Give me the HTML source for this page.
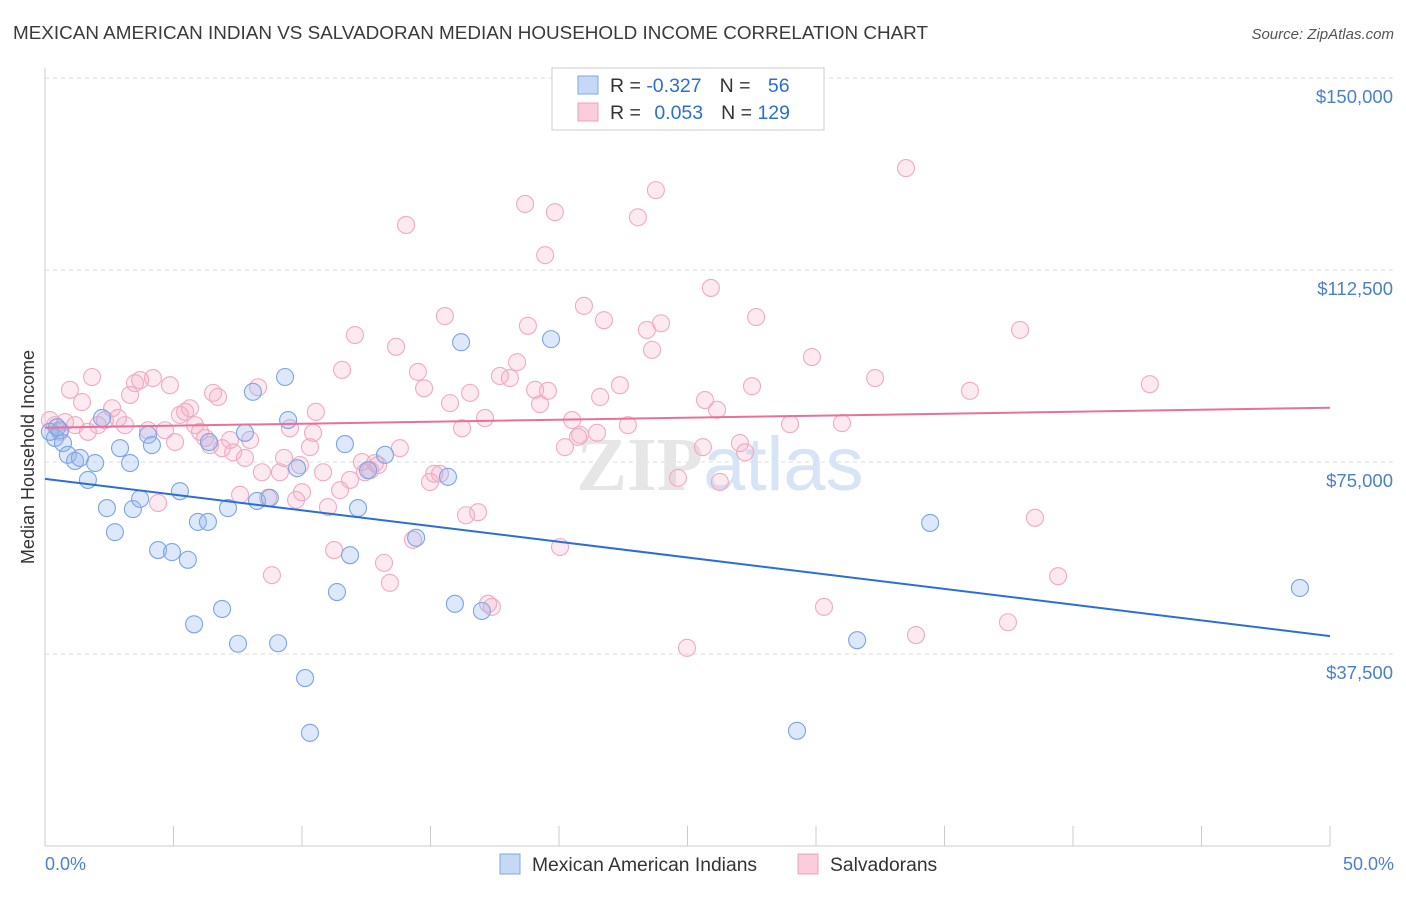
<!DOCTYPE html>
<html><head><meta charset="utf-8">
<style>
html,body{margin:0;padding:0;background:#fff;}
body{width:1406px;height:892px;overflow:hidden;font-family:"Liberation Sans",sans-serif;}
</style></head>
<body>
<svg id="chart" width="1406" height="892" xmlns="http://www.w3.org/2000/svg" font-family="Liberation Sans, sans-serif">
<text x="13" y="39" font-size="18.6" fill="#3a3a3a" textLength="915" lengthAdjust="spacingAndGlyphs">MEXICAN AMERICAN INDIAN VS SALVADORAN MEDIAN HOUSEHOLD INCOME CORRELATION CHART</text>
<text x="1394" y="39" font-size="15" fill="#555" text-anchor="end" font-style="italic">Source: ZipAtlas.com</text>
<g id="grid"></g>
<text x="720" y="490" font-size="76" text-anchor="middle" fill="#e6e6e6" font-family="Liberation Serif, serif" font-weight="bold">ZIP<tspan fill="#d6e4f5" font-family="Liberation Sans, sans-serif" font-weight="normal">atlas</tspan></text>
<g id="marks"></g>
<text transform="translate(34,457) rotate(-90)" font-size="18" fill="#333" text-anchor="middle">Median Household Income</text>
<text x="45" y="870" font-size="18" fill="#4a7fd4">0.0%</text>
<text x="1394" y="870" font-size="18" fill="#4a7fd4" text-anchor="end">50.0%</text>
<g>
<rect x="552" y="68" width="272" height="62" fill="#fff" stroke="#ccc"/>
<rect x="578" y="76" width="20" height="18" fill="#c5d8f5" stroke="#7fa8e8"/>
<rect x="578" y="103" width="20" height="18" fill="#f9cddb" stroke="#f0a0bc"/>
<text x="610" y="92" font-size="19.5" fill="#333">R = <tspan fill="#2a6fd6">-0.327</tspan><tspan dx="18">N = </tspan><tspan fill="#2a6fd6" dx="12">56</tspan></text>
<text x="610" y="119" font-size="19.5" fill="#333">R = <tspan fill="#2a6fd6" dx="8">0.053</tspan><tspan dx="18">N = </tspan><tspan fill="#2a6fd6">129</tspan></text>
</g>
<g>
<rect x="500" y="854" width="20" height="20" fill="#c5d8f5" stroke="#7fa8e8"/>
<text x="532" y="871" font-size="19.3" fill="#333">Mexican American Indians</text>
<rect x="798" y="854" width="20" height="20" fill="#f9cddb" stroke="#f0a0bc"/>
<text x="830" y="871" font-size="19.3" fill="#333">Salvadorans</text>
</g>
</svg>
<script>
const yTicks=[37.5,75,112.5,150];
const yTickLabels=["$37,500","$75,000","$112,500","$150,000"];
const xTicks=[0,5,10,15,20,25,30,35,40,45,50];
const blueX=[0.39,0.58,0.70,0.89,1.17,1.36,1.67,1.95,2.22,2.41,2.72,2.92,3.31,3.42,3.70,4.01,4.16,4.40,4.94,5.25,5.56,5.95,6.34,5.80,6.89,7.12,7.51,7.78,8.09,8.25,8.75,9.07,9.34,9.46,9.81,10.12,10.31,11.67,11.87,11.36,12.18,13.23,12.57,14.44,15.68,15.95,17.0,16.19,19.69,29.26,31.6,34.44,48.83,6.38,0.19,0.47];
const blueY=[79.7,81.2,78.7,76.4,75.2,75.8,71.5,74.8,83.6,66.0,61.3,77.7,74.8,65.8,67.8,80.3,78.3,57.8,57.4,69.3,55.9,63.3,63.3,43.3,46.3,66.0,39.5,80.7,88.7,67.4,68.0,39.6,91.6,83.2,73.8,32.8,22.1,78.5,56.8,49.6,66.0,76.4,73.4,60.2,72.1,47.3,45.9,98.4,99.0,22.5,40.2,63.1,50.4,78.9,80.9,81.8];
const pinkX=[0.19,0.39,0.58,0.78,0.97,1.17,1.44,1.67,1.83,2.06,2.33,2.61,2.84,3.11,3.31,3.50,3.70,4.01,4.20,4.40,4.67,4.86,5.06,5.25,5.45,5.64,5.84,6.03,6.23,6.42,6.54,6.73,6.89,7.20,7.32,7.59,7.78,7.98,8.29,8.44,8.68,8.83,9.14,9.30,9.53,9.77,9.92,10.0,10.31,10.43,10.54,10.82,11.01,11.25,11.48,11.56,11.87,12.06,12.33,12.45,12.65,12.84,12.96,13.19,13.42,13.66,13.81,14.05,14.32,14.51,14.75,14.98,15.14,15.37,15.56,15.76,16.23,16.38,16.54,16.85,17.12,17.24,17.39,17.70,18.09,18.37,18.68,18.79,19.07,19.26,19.46,19.57,19.84,20.04,20.23,20.51,20.74,20.97,21.48,21.60,21.75,22.37,22.68,23.07,23.42,23.62,23.77,23.97,24.63,24.98,25.60,25.68,25.91,26.15,26.26,27.04,27.24,27.51,27.67,28.99,29.84,30.31,31.01,32.30,33.50,33.89,35.99,37.47,37.94,38.52,39.42,42.99,20.82];
const pinkY=[83.2,82.2,80.9,82.8,89.1,82.2,86.7,80.9,91.6,82.2,83.2,85.5,83.6,82.2,88.1,90.4,91.0,81.2,91.4,67.0,81.2,90.0,78.9,84.2,84.8,85.5,82.2,80.9,79.7,78.3,88.5,87.7,77.7,79.3,76.9,68.6,75.8,79.3,89.6,73.0,68.0,52.9,73.0,75.8,81.6,67.6,74.4,69.1,77.9,80.7,84.8,73.0,66.2,57.8,69.5,93.0,71.5,99.8,75.0,73.0,73.4,74.8,74.4,55.3,51.4,97.5,77.7,121.3,59.8,92.6,89.4,71.1,72.7,72.7,103.5,86.5,81.6,64.6,88.5,65.2,83.6,47.3,46.7,91.8,91.4,94.5,125.4,101.6,89.1,86.3,115.4,88.9,123.8,58.4,77.9,83.2,79.9,105.5,80.7,87.7,102.7,90.0,82.2,122.8,100.8,96.9,128.1,102.1,71.9,38.7,77.9,87.1,109.0,85.2,71.1,78.7,76.9,89.8,103.3,82.4,95.5,46.7,82.6,91.4,132.4,41.2,88.9,43.7,100.8,64.1,52.7,90.2,80.3];
const blueTrend=[71.7,41.0];
const pinkTrend=[81.7,85.6];

const NS="http://www.w3.org/2000/svg";
const X0=45,X1=1330,YB=846,PX_PER_K=192/37.5;
function sx(p){return X0+(p/50)*(X1-X0);}
function sy(v){return YB-v*PX_PER_K;}
function mk(tag,attrs,parent){const e=document.createElementNS(NS,tag);for(const k in attrs)e.setAttribute(k,attrs[k]);parent.appendChild(e);return e;}
const grid=document.getElementById('grid'),marks=document.getElementById('marks');
yTicks.forEach((t,i)=>{
 const l=mk('line',{x1:X0,x2:1394,y1:sy(t),y2:sy(t),stroke:'#ddd','stroke-dasharray':'4,4'},grid);
 
 
 const tx=mk('text',{x:1393,y:sy(t)+25,'font-size':18.5,fill:'#4a7fd4','text-anchor':'end'},grid);
 tx.textContent=yTickLabels[i];
 
 
});
const ax=mk('line',{x1:X0,x2:X0,y1:68,y2:YB,stroke:'#ccc'},grid);


const bx=mk('line',{x1:X0,x2:X1,y1:YB,y2:YB,stroke:'#ccc'},grid);


xTicks.forEach(t=>{
 const l=mk('line',{x1:sx(t),x2:sx(t),y1:YB,y2:YB-20,stroke:'#ccc'},grid);
 
 
});
pinkX.forEach((x,i)=>{
 const c=mk('circle',{cx:sx(x),cy:sy(pinkY[i]),r:8.5,fill:'rgba(245,170,195,0.25)',stroke:'#f2a9c2','stroke-width':1.1},marks);
 
 
});
blueX.forEach((x,i)=>{
 const c=mk('circle',{cx:sx(x),cy:sy(blueY[i]),r:8.5,fill:'rgba(150,185,240,0.32)',stroke:'#7aa5e6','stroke-width':1.1},marks);
 
 
});
const bl=mk('line',{x1:sx(0),y1:sy(blueTrend[0]),x2:sx(50),y2:sy(blueTrend[1]),stroke:'#2a6fd6','stroke-width':2},marks);


const pl=mk('line',{x1:sx(0),y1:sy(pinkTrend[0]),x2:sx(50),y2:sy(pinkTrend[1]),stroke:'#e8709a','stroke-width':2},marks);


</script>
</body></html>
